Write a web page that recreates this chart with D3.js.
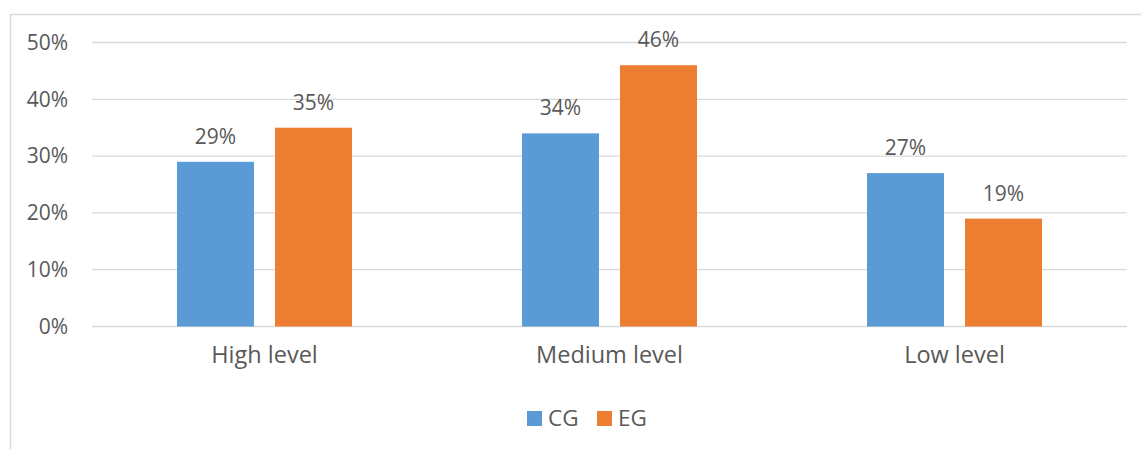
<!DOCTYPE html>
<html>
<head>
<meta charset="utf-8">
<script src="https://cdn.jsdelivr.net/npm/d3@7"></script>
<style>
  body { margin: 0; background: #fff; }
  text { font-family: "Open Sans", sans-serif; fill: #595959; }
</style>
</head>
<body>
<div id="chart"></div>
<script>
// data
var categories = ["High level", "Medium level", "Low level"];
var seriesNames = ["CG", "EG"];
var cgValues = [29, 34, 27];
var egValues = [35, 46, 19];
var yTicks = [0, 10, 20, 30, 40, 50];
var colors = ["#5B9BD5", "#ED7D31"];

var svgWidth = 1141;
var svgHeight = 449;
var margin = {top: 42.5, right: 14, bottom: 122.5, left: 92};
var width = svgWidth - margin.left - margin.right;
var height = svgHeight - margin.top - margin.bottom;

var svg = d3.select("#chart")
  .append("svg")
  .attr("width", svgWidth)
  .attr("height", svgHeight);

// outer chart border
svg.append("rect")
  .attr("x", 10.5)
  .attr("y", 14.5)
  .attr("width", 1160)
  .attr("height", 500)
  .attr("fill", "none")
  .attr("stroke", "#D9D9D9")
  .attr("stroke-width", 1.5);

var chartGroup = svg.append("g")
  .attr("transform", "translate(" + margin.left + "," + margin.top + ")");

var x0 = d3.scaleBand()
  .domain(categories)
  .range([0, width]);

var barWidth = 77;
var barGap = 21;
var x1 = d3.scaleOrdinal()
  .domain(seriesNames)
  .range([-(barGap / 2) - barWidth, barGap / 2]);

var y = d3.scaleLinear()
  .domain([0, 50])
  .range([height, 0]);

// gridlines
chartGroup.selectAll(".grid")
  .data(yTicks)
  .enter()
  .append("line")
  .attr("x1", 0)
  .attr("x2", width)
  .attr("y1", d => y(d))
  .attr("y2", d => y(d))
  .attr("stroke", "#D9D9D9")
  .attr("stroke-width", 1.3);

// y axis labels
var leftAxis = d3.axisLeft(y)
  .tickValues(yTicks)
  .tickFormat(d => d + "%")
  .tickSize(0)
  .tickPadding(24);

var yAxis = chartGroup.append("g").call(leftAxis);
yAxis.select(".domain").remove();
yAxis.selectAll("text")
  .attr("fill", "#595959")
  .style("font-family", "Open Sans")
  .style("font-size", "21px");

// x axis labels
var bottomAxis = d3.axisBottom(x0).tickSize(0).tickPadding(20);
var xAxis = chartGroup.append("g")
  .attr("transform", `translate(0, ${height})`)
  .call(bottomAxis);
xAxis.select(".domain").remove();
xAxis.selectAll("text")
  .attr("fill", "#595959")
  .style("font-family", "Open Sans")
  .style("font-size", "23.5px");

var barData = [];
categories.forEach(function(c, i) {
  barData.push({cat: c, series: "CG", value: cgValues[i], color: colors[0]});
  barData.push({cat: c, series: "EG", value: egValues[i], color: colors[1]});
});

chartGroup.selectAll(".bar")
  .data(barData)
  .enter()
  .append("rect")
  .attr("x", d => x0(d.cat) + x0.bandwidth() / 2 + x1(d.series))
  .attr("y", d => y(d.value))
  .attr("width", barWidth)
  .attr("height", d => height - y(d.value))
  .attr("fill", d => d.color);

chartGroup.selectAll(".label")
  .data(barData)
  .enter()
  .append("text")
  .attr("x", d => x0(d.cat) + x0.bandwidth() / 2 + x1(d.series) + barWidth / 2)
  .attr("y", d => y(d.value) - 18)
  .attr("text-anchor", "middle")
  .style("font-size", "21px")
  .text(d => d.value + "%");

// legend
var legend = svg.append("g");
var legendX = [527, 597];
seriesNames.forEach(function(s, i) {
  legend.append("rect")
    .attr("x", legendX[i])
    .attr("y", 411)
    .attr("width", 15)
    .attr("height", 15)
    .attr("fill", colors[i]);
  legend.append("text")
    .attr("x", legendX[i] + 21)
    .attr("y", 426)
    .style("font-size", "22.5px")
    .text(s);
});
</script>
</body>
</html>
